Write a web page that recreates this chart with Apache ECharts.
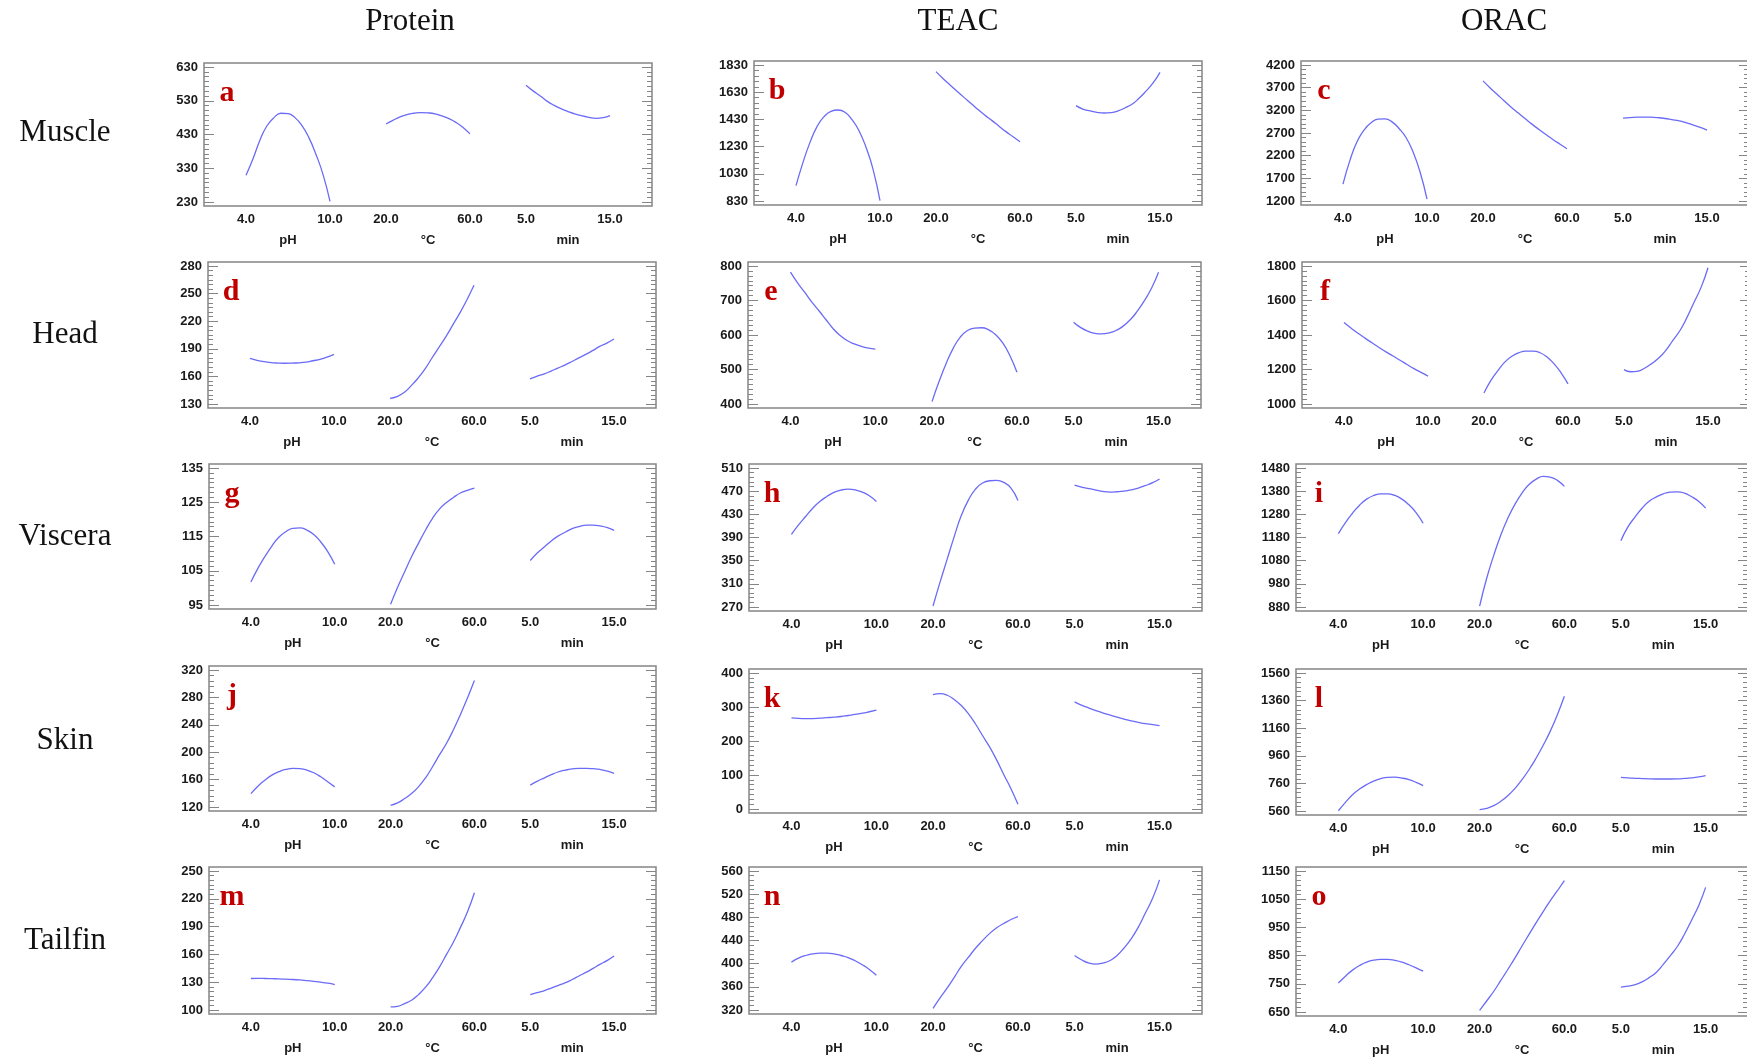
<!DOCTYPE html>
<html><head><meta charset="utf-8">
<script src="https://cdn.jsdelivr.net/npm/echarts@6/dist/echarts.min.js"></script>
<style>html,body{margin:0;padding:0;background:#fff}#c{width:1747px;height:1059px}</style>
</head><body><div id="c"></div>
<script>
// ---------- text ----------
const columnTitles = ['Protein', 'TEAC', 'ORAC'];
const rowLabels = ['Muscle', 'Head', 'Viscera', 'Skin', 'Tailfin'];
const panelLetters = ['a','b','c','d','e','f','g','h','i','j','k','l','m','n','o'];
const factorNames = ['pH', '°C', 'min'];
const factorRanges = [[4, 10], [20, 60], [5, 15]];

// ---------- factor levels (x values) ----------
const pHLevels   = [4, 4.5, 5, 5.5, 6, 6.5, 7, 7.5, 8, 8.5, 9, 9.5, 10];
const tempLevels = [20, 23.3, 26.7, 30, 33.3, 36.7, 40, 43.3, 46.7, 50, 53.3, 56.7, 60];
const timeLevels = [5, 5.8, 6.7, 7.5, 8.3, 9.2, 10, 10.8, 11.7, 12.5, 13.3, 14.2, 15];

// ---------- y tick labels ----------
const yTicks_a = [230, 330, 430, 530, 630];
const yTicks_b = [830, 1030, 1230, 1430, 1630, 1830];
const yTicks_c = [1200, 1700, 2200, 2700, 3200, 3700, 4200];
const yTicks_d = [130, 160, 190, 220, 250, 280];
const yTicks_e = [400, 500, 600, 700, 800];
const yTicks_f = [1000, 1200, 1400, 1600, 1800];
const yTicks_g = [95, 105, 115, 125, 135];
const yTicks_h = [270, 310, 350, 390, 430, 470, 510];
const yTicks_i = [880, 980, 1080, 1180, 1280, 1380, 1480];
const yTicks_j = [120, 160, 200, 240, 280, 320];
const yTicks_k = [0, 100, 200, 300, 400];
const yTicks_l = [560, 760, 960, 1160, 1360, 1560];
const yTicks_m = [100, 130, 160, 190, 220, 250];
const yTicks_n = [320, 360, 400, 440, 480, 520, 560];
const yTicks_o = [650, 750, 850, 950, 1050, 1150];

// ---------- series values ----------
// Protein / Muscle
const a_pH   = [309, 358, 414, 456, 480, 493, 492, 480, 456, 420, 371, 312, 232];
const a_temp = [461, 472, 482, 489, 493, 495, 494, 491, 485, 477, 466, 451, 432];
const a_time = [576, 560, 544, 529, 517, 506, 498, 491, 485, 481, 478, 480, 486];
// TEAC / Muscle
const b_pH   = [943, 1114, 1261, 1377, 1450, 1489, 1499, 1482, 1428, 1347, 1225, 1065, 832];
const b_temp = [1781, 1731, 1683, 1637, 1592, 1547, 1502, 1461, 1421, 1380, 1340, 1303, 1266];
const b_time = [1531, 1506, 1492, 1482, 1477, 1480, 1492, 1514, 1543, 1585, 1636, 1700, 1776];
// ORAC / Muscle
const c_pH   = [1574, 2102, 2506, 2763, 2924, 3005, 3012, 2946, 2799, 2601, 2286, 1846, 1244];
const c_temp = [3849, 3700, 3555, 3413, 3276, 3145, 3020, 2896, 2777, 2665, 2557, 2452, 2352];
const c_time = [3027, 3040, 3049, 3052, 3049, 3037, 3020, 2996, 2968, 2928, 2880, 2825, 2763];
// Protein / Head
const d_pH   = [179.5, 177.5, 176, 175, 174.5, 174.3, 174.5, 174.8, 175.5, 177, 178.5, 181, 184];
const d_temp = [136, 138, 142.4, 149.7, 158, 168.2, 180, 191.5, 203.5, 216.3, 229, 243.6, 259];
const d_time = [157.3, 160, 162.8, 165.8, 169, 172.5, 176.2, 180.1, 184.2, 188.3, 192.6, 196.5, 200.6];
// TEAC / Head
const e_pH   = [782, 751, 724, 696, 671, 645, 619, 599, 584, 574, 567, 562, 559];
const e_temp = [407, 465, 518, 562, 594, 613, 620, 621, 615, 601, 577, 540, 492];
const e_time = [637, 622, 611, 605, 603, 606, 613, 625, 645, 669, 698, 737, 782];
// ORAC / Head
const f_pH   = [1472, 1440, 1410, 1382, 1355, 1328, 1302, 1278, 1254, 1229, 1205, 1183, 1162];
const f_temp = [1064, 1137, 1195, 1244, 1277, 1298, 1306, 1306, 1297, 1273, 1234, 1181, 1117];
const f_time = [1199, 1187, 1191, 1209, 1234, 1269, 1312, 1367, 1429, 1502, 1585, 1679, 1790];
// Protein / Viscera
const g_pH   = [101.7, 105.7, 109.1, 112.2, 114.8, 116.4, 117.4, 117.5, 116.9, 115.6, 113.4, 110.6, 106.9];
const g_temp = [95.2, 100.1, 104.7, 109.1, 113, 116.9, 120.3, 123, 124.9, 126.4, 127.7, 128.5, 129.1];
const g_time = [108, 110.1, 112, 113.7, 115.1, 116.3, 117.3, 117.9, 118.3, 118.3, 118.1, 117.6, 116.8];
// TEAC / Viscera
const h_pH   = [395.5, 411.7, 426.2, 440.6, 452.2, 460.9, 467.8, 471.9, 473.6, 472.3, 468.4, 462, 452.2];
const h_temp = [271.7, 313, 353, 392, 428, 455, 473.6, 484, 488, 488.6, 485.2, 475.3, 454];
const h_time = [480.5, 477, 474.2, 471.9, 469.5, 468.4, 469, 470.1, 472.4, 475.3, 479.4, 484.6, 491];
// ORAC / Viscera
const i_pH   = [1196.6, 1244.3, 1284.8, 1319.5, 1345.5, 1361.4, 1368.7, 1368.7, 1361.4, 1345.5, 1321, 1287.7, 1241.4];
const i_temp = [884, 1003, 1104, 1191, 1263, 1324, 1371.5, 1409, 1432, 1444, 1441, 1426.5, 1400.5];
const i_time = [1166, 1224, 1270, 1306.5, 1335.4, 1355.6, 1368.7, 1375.9, 1377.3, 1371.5, 1357, 1335.4, 1306.5];
// Protein / Skin
const j_pH   = [139.6, 150.4, 159.2, 166.6, 171.5, 174.9, 176.4, 175.9, 173.9, 170, 164.1, 156.8, 149.4];
const j_temp = [122.5, 125.9, 132.3, 139.6, 149.4, 162.6, 178.8, 196, 213.1, 232.7, 254.8, 279.3, 304.8];
const j_time = [151.9, 157.5, 162.6, 167.2, 171.1, 173.9, 175.6, 176.4, 176.4, 175.9, 174.9, 172.5, 169];
// TEAC / Skin
const k_pH   = [268, 266.5, 266, 266, 267, 268.5, 270, 272, 275, 278, 281.7, 286, 290.5];
const k_temp = [336.4, 339.4, 334.5, 321.8, 304.2, 279.7, 250, 216.1, 181.9, 143.8, 101.7, 59.7, 13.7];
const k_time = [315, 305.5, 297, 289.5, 282.6, 276, 270, 264.3, 259, 255, 251.3, 248.3, 245.5];
// ORAC / Skin
const l_pH   = [562, 623, 678, 719, 751, 777, 794, 804, 806, 799, 787, 768, 744];
const l_temp = [569.7, 579.3, 598.6, 630, 671, 724, 787, 859, 944, 1036, 1137, 1258, 1391];
const l_time = [804, 800, 797, 795, 793, 792, 792, 792, 793, 796, 800, 807, 816];
// Protein / Tailfin
const m_pH   = [134, 134.1, 134, 133.8, 133.6, 133.3, 132.9, 132.4, 131.8, 131, 130, 128.9, 127.5];
const m_temp = [103.3, 104, 106.9, 110.5, 116.6, 124.6, 134.7, 146.3, 160, 173.4, 188.9, 205.9, 226.5];
const m_time = [116.6, 118.7, 121, 123.6, 126.4, 129.5, 132.9, 136.7, 140.8, 144.9, 149.2, 153.6, 158.2];
// TEAC / Tailfin
const n_pH   = [402.7, 409.5, 414.1, 416.9, 418.1, 418.1, 416.9, 414.1, 410.6, 405, 398.1, 390.1, 379.9];
const n_temp = [322.9, 341.1, 358.2, 376.4, 395.3, 411.2, 426.6, 439.7, 452.3, 462, 469.4, 476.2, 481.3];
const n_time = [414.1, 406.7, 401, 399.2, 401, 405.5, 414.1, 426.6, 443.7, 463.1, 486.5, 513.3, 544.6];
// ORAC / Tailfin
const o_pH   = [753, 777, 798.5, 815, 827, 834, 836.5, 836.5, 833, 827, 817.5, 806.8, 795];
const o_temp = [656, 689, 723.6, 762, 800.8, 842, 884, 925, 967, 1006, 1044, 1080, 1115.6];
const o_time = [738, 741.4, 747.4, 756.9, 771.1, 791.3, 818.6, 848.3, 884, 925.5, 973, 1028.9, 1091.8];

// ---------- assembly ----------
const panels = [
  [a_pH, a_temp, a_time, yTicks_a], [b_pH, b_temp, b_time, yTicks_b], [c_pH, c_temp, c_time, yTicks_c],
  [d_pH, d_temp, d_time, yTicks_d], [e_pH, e_temp, e_time, yTicks_e], [f_pH, f_temp, f_time, yTicks_f],
  [g_pH, g_temp, g_time, yTicks_g], [h_pH, h_temp, h_time, yTicks_h], [i_pH, i_temp, i_time, yTicks_i],
  [j_pH, j_temp, j_time, yTicks_j], [k_pH, k_temp, k_time, yTicks_k], [l_pH, l_temp, l_time, yTicks_l],
  [m_pH, m_temp, m_time, yTicks_m], [n_pH, n_temp, n_time, yTicks_n], [o_pH, o_temp, o_time, yTicks_o]
];
const levels = [pHLevels, tempLevels, timeLevels];

// layout (plot boxes: left, top, width, height)
const boxes = [
  [204, 63, 448, 143], [754, 61, 448, 144], [1301, 61, 448, 144],
  [208, 262, 448, 146], [748, 262, 453, 146], [1302, 262, 448, 146],
  [209, 464, 447, 145], [749, 464, 453, 147], [1296, 464, 452, 147],
  [209, 666, 447, 145], [749, 669, 453, 144], [1296, 669, 452, 146],
  [209, 867, 447, 147], [749, 867, 453, 147], [1296, 867, 452, 149]
];
const segStart = [1, 13 / 3, 23 / 3];   // coded position of each factor's low level
const totalCoded = 32 / 3;
const lineColor = '#6b6bf7';
const frameColor = '#858585';
const labelFont = { fontSize: 13, fontWeight: 'bold', fontFamily: 'Liberation Sans, Arial, sans-serif', color: '#1a1a1a' };

const grids = [], xAxes = [], yAxes = [], series = [], graphics = [];

panels.forEach((p, pi) => {
  const [L, T, W, H] = boxes[pi];
  grids.push({ left: L, top: T, width: W, height: H, show: true, borderColor: frameColor, borderWidth: 1.5,
               backgroundColor: '#fff', containLabel: false, outerBoundsMode: 'none' });

  // three x axes sharing the grid, one per factor
  for (let f = 0; f < 3; f++) {
    const [lo, hi] = factorRanges[f];
    const upc = (hi - lo) / 2;
    const mn = lo - segStart[f] * upc;
    const mx = mn + totalCoded * upc;
    const mid = (lo + hi) / 2;
    const name = factorNames[f];
    xAxes.push({
      gridIndex: pi, type: 'value', min: mn, max: mx, position: 'bottom', offset: 0,
      axisLine: { show: false, onZero: false }, axisTick: { show: false }, splitLine: { show: false },
      axisLabel: Object.assign({
        customValues: [lo, mid, hi], margin: 3, lineHeight: 21,
        formatter: v => Math.abs(v - mid) < 1e-6 ? '\n' + name : Number(v).toFixed(1)
      }, labelFont)
    });
  }

  // y axes: left (labels + major ticks), left minor, right major, right minor
  const ticks = p[3];
  const step = ticks[1] - ticks[0];
  const range = ticks[ticks.length - 1] - ticks[0];
  const pad = 4 * range / (H - 8);
  const ymin = ticks[0] - pad, ymax = ticks[ticks.length - 1] + pad;
  const majorPx = step * (H - 8) / range;
  const nSub = Math.max(2, Math.round(majorPx / 5));
  const minors = [];
  for (let t = 0; t < ticks.length - 1; t++)
    for (let s = 1; s < nSub; s++) minors.push(ticks[t] + s * step / nSub);

  const base = { gridIndex: pi, type: 'value', min: ymin, max: ymax, offset: 0,
                 splitLine: { show: false }, axisLine: { show: false, onZero: false } };
  yAxes.push(Object.assign({}, base, {
    position: 'left',
    axisTick: { inside: true, length: 10, customValues: ticks, lineStyle: { color: frameColor, width: 1 } },
    axisLabel: Object.assign({ customValues: ticks, margin: 6, formatter: v => String(v) }, labelFont)
  }));
  yAxes.push(Object.assign({}, base, {
    position: 'left', axisLabel: { show: false },
    axisTick: { inside: true, length: 5, customValues: minors, lineStyle: { color: frameColor, width: 1 } }
  }));
  yAxes.push(Object.assign({}, base, {
    position: 'right', axisLabel: { show: false },
    axisTick: { inside: true, length: 10, customValues: ticks, lineStyle: { color: frameColor, width: 1 } }
  }));
  yAxes.push(Object.assign({}, base, {
    position: 'right', axisLabel: { show: false },
    axisTick: { inside: true, length: 5, customValues: minors, lineStyle: { color: frameColor, width: 1 } }
  }));

  for (let f = 0; f < 3; f++) {
    series.push({
      type: 'line', xAxisIndex: pi * 3 + f, yAxisIndex: pi * 4,
      data: levels[f].map((x, i) => [x, p[f][i]]),
      smooth: 0.5, showSymbol: false, silent: true,
      lineStyle: { color: lineColor, width: 1.3 }
    });
  }

  graphics.push({
    type: 'text', x: L + 23, y: T + 30, silent: true,
    style: { text: panelLetters[pi], font: 'bold 30px "Liberation Serif", serif', fill: '#c00000',
             align: 'center', verticalAlign: 'middle', textAlign: 'center', textVerticalAlign: 'middle' }
  });
});

const colCenters = [410, 958, 1504];
columnTitles.forEach((t, i) => graphics.push({
  type: 'text', x: colCenters[i], y: 22, silent: true,
  style: { text: t, font: '31px "Liberation Serif", serif', fill: '#111',
           align: 'center', verticalAlign: 'middle', textAlign: 'center', textVerticalAlign: 'middle' }
}));
const rowCenters = [133, 335, 537, 741, 941];
rowLabels.forEach((t, i) => graphics.push({
  type: 'text', x: 65, y: rowCenters[i], silent: true,
  style: { text: t, font: '31px "Liberation Serif", serif', fill: '#111',
           align: 'center', verticalAlign: 'middle', textAlign: 'center', textVerticalAlign: 'middle' }
}));

const chart = echarts.init(document.getElementById('c'), null, { renderer: 'canvas' });
chart.setOption({
  animation: false,
  backgroundColor: '#fff',
  grid: grids, xAxis: xAxes, yAxis: yAxes, series: series, graphic: graphics
});
</script>
</body></html>
